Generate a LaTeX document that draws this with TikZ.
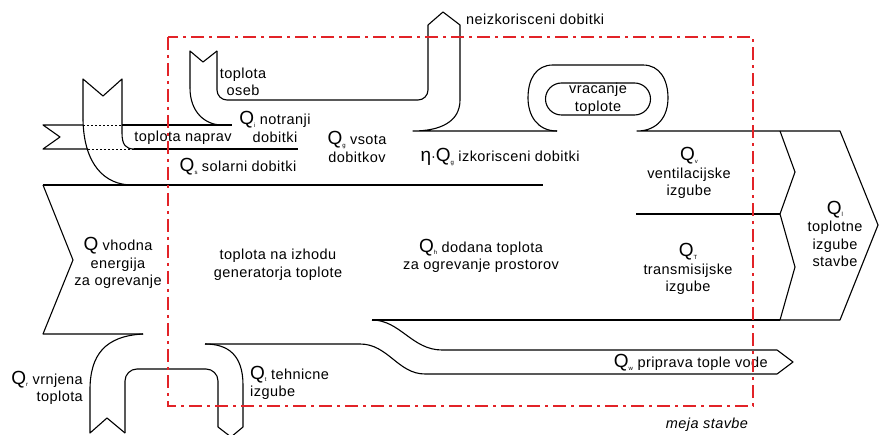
\documentclass[tikz,border=0pt]{standalone}
\usepackage{fontspec}
\setmainfont{Liberation Sans}[LetterSpace=3]
\definecolor{meja}{RGB}{226,35,40}
\newcommand\bigQ{{\fontsize{19}{19}\selectfont Q}}
\newcommand\Qsub[1]{\bigQ\raisebox{-2.5pt}{\fontsize{6}{6}\selectfont #1}}
\begin{document}
\begin{tikzpicture}[x=1pt,y=-1pt,
  flow/.style={line width=1.1pt, line join=round},
  hidden/.style={line width=0.8pt, dash pattern=on 2pt off 2pt},
  border/.style={meja, line width=2.4pt, dash pattern=on 13pt off 5pt on 3pt off 5pt},
  lbl/.style={font=\fontsize{14.5}{17.5}\selectfont, align=center, inner sep=0pt}]
\useasboundingbox (0,0) rectangle (880,435);

% equipment heat band (toplota naprav)
\draw[flow] (83,125)--(43,125)--(60,137)--(43,149)--(88,149);
\draw[flow] (122,125)--(232,125);
\draw[hidden] (83,125)--(122,125);
\draw[hidden] (88,149)--(134,149);
\draw[flow] (134,149)--(298,149);

% solar gains entering from above
\draw[flow] (83,120)--(83,79)--(103,96)--(122,79)--(122,133)
  .. controls (122,145) and (126,149) .. (134,149);
\draw[flow] (83,120) .. controls (84,165) and (105,185) .. (132,185);

% heat from occupants
\draw[flow] (190,88)--(190,51)--(203,62)--(217,51);
\draw[flow] (190,88) .. controls (190,112) and (205,125) .. (222,125);
\draw[flow, rounded corners=10] (217,51)--(217,100)--(428,100)--(428,25);

% unused gains leaving upwards, used gains to the right
\draw[flow] (428,25)--(443,12)--(460,25)--(460,100)
  .. controls (460,122) and (440,131) .. (413,131)--(557,131);

% heat recovery loop and total heat losses arrow
\draw[flow] (557,131) .. controls (537,131) and (528,115) .. (528,98)
  .. controls (528,79) and (536,65) .. (553,65) -- (643,65)
  .. controls (660,65) and (668,80) .. (668,98)
  .. controls (668,116) and (658,131) .. (637,131) -- (840,131)
  -- (878,225) -- (840,320) -- (780,320);
\node[draw, line width=1.1pt, rounded corners=16pt, minimum width=105pt,
  minimum height=32pt, lbl] (vrac) at (598,99) {vracanje\\toplote};

% boundary between gains and heating energy
\draw[flow] (43,185)--(543,185);

% input energy band
\draw[flow] (43,185)--(73,260)--(43,334)--(143,334);

% ventilation and transmission losses
\draw[flow] (636,214)--(780,214);
\draw[flow] (780,131)--(795,172)--(780,214)--(795,267)--(780,320);
\draw[flow] (372,320)--(780,320);

% domestic hot water branch
\draw[flow] (372,320) .. controls (400,320) and (412,350) .. (442,350)
  -- (777,350) -- (793,362) -- (777,374) -- (425,374)
  .. controls (398,374) and (388,344) .. (360,344) -- (205,344);

% recovered heat and technical losses loop
\draw[flow] (143,334) .. controls (105,336) and (90,355) .. (90,390)
  -- (90,433) -- (107,418) -- (125,433);
\draw[flow, rounded corners=12] (125,433) -- (125,369) -- (218,369) -- (218,427);
\draw[flow] (218,427) -- (231,437) -- (243,427) -- (243,385)
  .. controls (243,355) and (228,344) .. (205,344);

% labels
\node[lbl, anchor=west] (neiz) at (466,19) {neizkorisceni dobitki};
\node[lbl] (oseb) at (243,82) {toplota\\oseb};
\node[lbl] (notr) at (275,127) {\Qsub{i} notranji\\dobitki};
\node[lbl] (napr) at (183,138) {toplota naprav};
\node[lbl] (sol) at (238,167) {\Qsub{s} solarni dobitki};
\node[lbl] (vsota) at (357,147) {\Qsub{g} vsota\\dobitkov};
\node[lbl] (izk) at (500,157) {{\fontsize{19}{19}\selectfont η}·\Qsub{g} izkorisceni dobitki};
\node[lbl] (vent) at (689,173) {\Qsub{v}\\ventilacijske\\izgube};
\node[lbl] (trans) at (688,269) {\Qsub{T}\\transmisijske\\izgube};
\node[lbl] (topl) at (835,234) {\Qsub{l}\\toplotne\\izgube\\stavbe};
\node[lbl] (vhod) at (118,263) {\bigQ{} vhodna\\energija\\za ogrevanje};
\node[lbl] (gen) at (278,265) {toplota na izhodu\\generatorja toplote};
\node[lbl] (dod) at (481,256) {\Qsub{h} dodana toplota\\za ogrevanje prostorov};
\node[lbl, anchor=east, align=right] (vrnj) at (83,388) {\Qsub{r} vrnjena\\toplota};
\node[lbl, anchor=west, align=left] (tehn) at (250,383) {\Qsub{t} tehnicne\\izgube};
\node[lbl, anchor=east] (tv) at (768,363) {\Qsub{w} priprava tople vode};
\node[lbl, font=\fontsize{14.5}{17.5}\selectfont\itshape] (meja) at (707,425) {meja stavbe};

% building boundary
\draw[border] (168,37) rectangle (753,406);
\end{tikzpicture}
\end{document}
